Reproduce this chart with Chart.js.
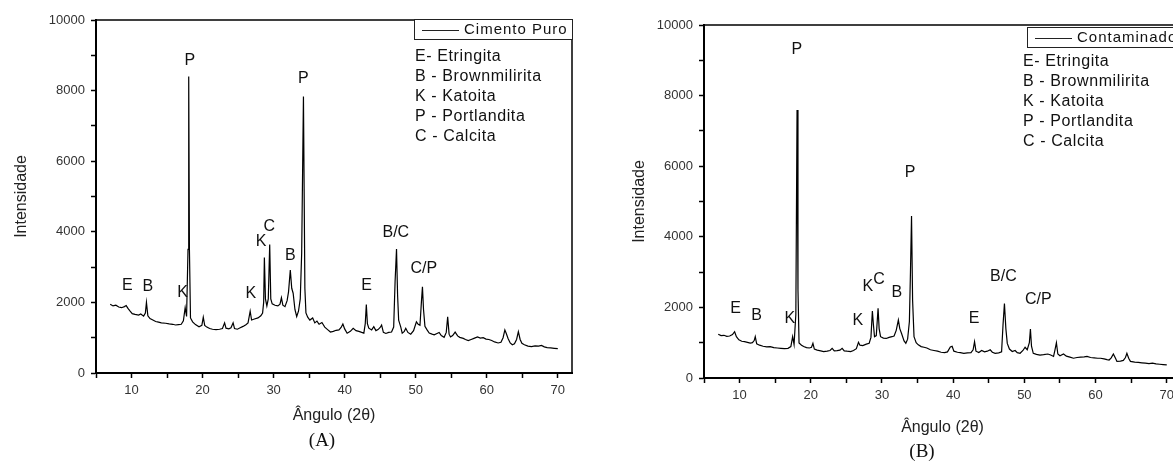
<!DOCTYPE html>
<html lang="pt">
<head>
<meta charset="utf-8">
<script src="https://cdn.jsdelivr.net/npm/chart.js@4.4.1/dist/chart.umd.min.js"></script>
<style>
  html, body { margin: 0; padding: 0; background: #fff; overflow: hidden; width: 1173px; height: 466px; }
  canvas { position: absolute; top: 0; }
  #difA { left: 0; }
  #difB { left: 586px; }
  .rotulo { position: absolute; font-family: 'Liberation Serif', 'Times New Roman', serif; font-size: 19px; color: #111; transform: translate(-50%, -50%); }
</style>
</head>
<body>
<canvas id="difA" width="586" height="466"></canvas>
<canvas id="difB" width="600" height="466"></canvas>
<div class="rotulo" style="left:322px;top:440px">(A)</div>
<div class="rotulo" style="left:922px;top:451px">(B)</div>
<script>
// difratograma (A) - cimento puro
const anguloA = [
    7.0, 7.4, 7.8, 8.2, 8.6, 9.0, 9.25, 9.5, 9.8, 10.1, 10.5, 11.0, 11.3, 11.7, 11.95, 12.1, 12.3, 12.6,
    13.0, 13.4, 13.8, 14.2, 14.8, 15.3, 15.8, 16.2, 16.6, 17.0, 17.3, 17.55, 17.75, 17.95, 18.05, 18.15,
    18.3, 18.6, 19.0, 19.5, 19.9, 20.1, 20.3, 20.6, 21.0, 21.4, 21.9, 22.4, 22.8, 23.1, 23.3, 23.7, 24.0,
    24.3, 24.5, 24.9, 25.3, 25.7, 26.1, 26.4, 26.7, 26.9, 27.3, 27.8, 28.2, 28.45, 28.6, 28.7, 28.85,
    29.05, 29.25, 29.45, 29.6, 29.8, 30.2, 30.6, 30.9, 31.1, 31.3, 31.6, 31.9, 32.1, 32.35, 32.55, 32.75,
    33.0, 33.25, 33.5, 33.75, 33.95, 34.2, 34.4, 34.55, 34.8, 35.1, 35.5, 35.8, 36.1, 36.4, 36.8, 37.2,
    37.6, 38.0, 38.4, 38.8, 39.2, 39.5, 39.75, 40.0, 40.35, 40.8, 41.2, 41.6, 42.0, 42.4, 42.7, 42.9,
    43.05, 43.2, 43.4, 43.8, 44.1, 44.4, 44.7, 45.0, 45.2, 45.45, 45.8, 46.2, 46.6, 46.9, 47.1, 47.3,
    47.45, 47.6, 47.9, 48.1, 48.4, 48.6, 48.9, 49.3, 49.7, 50.1, 50.35, 50.6, 50.8, 50.95, 51.1, 51.3,
    51.6, 51.9, 52.3, 52.6, 53.0, 53.3, 53.6, 54.0, 54.3, 54.5, 54.7, 54.9, 55.2, 55.55, 55.9, 56.2,
    56.7, 57.0, 57.4, 57.8, 58.2, 58.7, 59.1, 59.5, 59.9, 60.3, 60.7, 61.1, 61.6, 62.0, 62.3, 62.55,
    62.75, 63.0, 63.3, 63.6, 63.9, 64.2, 64.45, 64.7, 64.95, 65.3, 65.8, 66.3, 66.8, 67.3, 67.7, 68.1,
    68.5, 69.0, 69.5, 70.0
];
const intensidadeA = [
    1950, 1900, 1920, 1870, 1850, 1880, 1910, 1830, 1750, 1680, 1660, 1640, 1670, 1610, 1700, 2000, 1620, 1540,
    1500, 1460, 1440, 1420, 1410, 1390, 1380, 1360, 1370, 1380, 1480, 1850, 1600, 3500, 8400, 3500,
    1560, 1450, 1370, 1310, 1350, 1580, 1350, 1300, 1260, 1240, 1230, 1240, 1260, 1420, 1270, 1250, 1280,
    1420, 1260, 1240, 1280, 1320, 1370, 1420, 1750, 1500, 1530, 1560, 1620, 1700, 2000, 3270, 2100,
    1900, 2100, 3640, 2100, 1960, 1920, 1900, 1950, 2130, 1920, 1880, 2050, 2300, 2920, 2400, 2260,
    1800, 1600, 1750, 2100, 3400, 7830, 2400, 1700, 1580, 1500, 1560, 1420, 1470, 1380, 1430, 1300,
    1230, 1160, 1180, 1210, 1220, 1290, 1390, 1250, 1125, 1180, 1265, 1200, 1180, 1150, 1130, 1400,
    1940, 1400, 1270, 1220, 1310, 1200, 1230, 1290, 1360, 1150, 1120, 1150, 1160, 1300, 2600, 3510,
    2200, 1500, 1300, 1130, 1180, 1265, 1150, 1100, 1200, 1450, 1380, 1350, 2000, 2440, 1800, 1320,
    1220, 1130, 1100, 1080, 1120, 1150, 1060, 1010, 1150, 1590, 1100, 1020, 1060, 1160, 1050, 1010,
    980, 950, 920, 950, 980, 1020, 990, 1000, 960, 950, 920, 880, 850, 870, 1000, 1220,
    1120, 980, 850, 800, 830, 950, 1170, 950, 840, 800, 760, 750, 770, 760, 780, 740,
    720, 710, 700, 690
];

// difratograma (B) - contaminado
const anguloB = [
    7.0, 7.4, 7.8, 8.2, 8.6, 9.0, 9.3, 9.55, 9.9, 10.3, 10.7, 11.1, 11.5, 11.8, 12.05, 12.2, 12.4, 12.8,
    13.3, 13.8, 14.3, 14.8, 15.3, 15.8, 16.3, 16.8, 17.2, 17.45, 17.65, 17.9, 18.07, 18.2, 18.35, 18.7,
    19.0, 19.4, 19.8, 20.1, 20.3, 20.5, 20.9, 21.4, 21.8, 22.3, 22.7, 23.0, 23.3, 23.7, 24.1, 24.4,
    24.7, 25.1, 25.6, 26.0, 26.4, 26.7, 26.9, 27.3, 27.8, 28.2, 28.45, 28.65, 28.8, 28.95, 29.2, 29.45,
    29.6, 29.8, 30.2, 30.6, 31.0, 31.4, 31.7, 32.0, 32.3, 32.5, 32.75, 33.1, 33.35, 33.6, 33.85, 34.0,
    34.15, 34.3, 34.5, 34.8, 35.1, 35.5, 35.9, 36.3, 36.8, 37.3, 37.8, 38.3, 38.8, 39.2, 39.6, 39.85,
    40.1, 40.6, 41.0, 41.5, 42.0, 42.5, 42.8, 43.0, 43.2, 43.6, 44.0, 44.4, 44.8, 45.2, 45.5, 45.9,
    46.4, 46.8, 47.0, 47.2, 47.4, 47.6, 47.9, 48.3, 48.7, 49.0, 49.4, 49.8, 50.1, 50.4, 50.7, 50.85,
    51.0, 51.25, 51.7, 52.2, 52.7, 53.3, 53.7, 54.1, 54.3, 54.5, 54.7, 55.0, 55.5, 55.9, 56.4, 56.9,
    57.4, 57.9, 58.4, 58.8, 59.3, 59.8, 60.3, 60.7, 61.2, 61.6, 61.9, 62.2, 62.5, 62.8, 63.0, 63.5,
    63.9, 64.2, 64.4, 64.65, 64.9, 65.5, 66.0, 66.5, 67.0, 67.5, 68.0, 68.5, 69.0, 69.5, 70.0
];
const intensidadeB = [
    1240, 1200, 1210, 1180, 1190, 1230, 1310, 1170, 1080, 1040, 1030, 1010, 990, 1000, 1060, 1170, 970, 930,
    900, 880, 890, 860, 850, 840, 830, 840, 890, 1170, 950, 1800, 7590, 2500, 990, 930,
    890, 860, 850, 870, 980, 820, 790, 770, 750, 760, 780, 840, 770, 775, 790, 840,
    770, 760, 750, 780, 830, 1010, 930, 920, 960, 985, 1150, 1900, 1500, 1170, 1200, 1975,
    1400, 1170, 1130, 1120, 1150, 1170, 1190, 1350, 1640, 1400, 1260, 1050, 985, 1100, 1600, 3000,
    4590, 2200, 1170, 1000, 940, 890, 870, 850, 800, 780, 760, 730, 720, 740, 880, 900,
    760, 730, 720, 700, 710, 720, 800, 1030, 760, 720, 780, 740, 760, 800, 730, 700,
    710, 740, 1500, 2110, 1400, 980, 820, 750, 780, 720, 700, 780, 870, 800, 1000, 1390,
    900, 700, 670, 650, 660, 680, 650, 610, 800, 1000, 680, 630, 680, 620, 590, 560,
    580, 590, 600, 610, 580, 570, 560, 560, 540, 520, 510, 570, 680, 560, 470, 480,
    500, 580, 700, 560, 470, 450, 440, 430, 420, 410, 420, 400, 390, 380, 370
];

// rótulos dos picos: [fase, ângulo, intensidade]
const picosA = [
    ['E', 9.4, 2490], ['B', 12.3, 2440], ['K', 17.2, 2270], ['P', 18.2, 8840],
    ['K', 26.8, 2240], ['K', 28.25, 3710], ['C', 29.4, 4140], ['B', 32.35, 3340],
    ['P', 34.2, 8330], ['E', 43.1, 2490], ['B/C', 47.2, 3970], ['C/P', 51.15, 2970]
];
const picosB = [
    ['E', 9.45, 1980], ['B', 12.4, 1760], ['K', 17.05, 1670], ['P', 18.05, 9290],
    ['K', 26.6, 1615], ['K', 28.0, 2580], ['C', 29.6, 2780], ['B', 32.1, 2410],
    ['P', 33.95, 5810], ['E', 42.95, 1670], ['B/C', 47.05, 2860], ['C/P', 51.95, 2210]
];
const fases = ['E- Etringita', 'B - Brownmilirita', 'K - Katoita', 'P - Portlandita', 'C - Calcita'];
const marcasX = [5, 10, 15, 20, 25, 30, 35, 40, 45, 50, 55, 60, 65, 70];

const fonte = '"Liberation Sans", Arial, sans-serif';

// moldura, rótulos dos picos, lista de fases e legenda
const anotacoes = {
    id: 'anotacoes',
    afterDatasetsDraw(chart, args, opts) {
        const {ctx, chartArea: a, scales: {x, y}} = chart;
        ctx.save();
        ctx.strokeStyle = '#000';
        ctx.lineWidth = 1.5;
        ctx.beginPath();
        ctx.moveTo(a.left, a.top);
        ctx.lineTo(a.right, a.top);
        ctx.lineTo(a.right, a.bottom);
        ctx.stroke();

        ctx.fillStyle = '#111';
        ctx.font = '16px ' + fonte;
        ctx.textAlign = 'center';
        ctx.textBaseline = 'middle';
        opts.picos.forEach(([txt, ang, val]) => {
            ctx.fillText(txt, x.getPixelForValue(ang), y.getPixelForValue(val));
        });

        ctx.textAlign = 'left';
        ctx.letterSpacing = '0.6px';
        fases.forEach((txt, i) => {
            ctx.fillText(txt, a.right - opts.listaDx, a.top + 37 + i * 19.8);
        });

        // caixa da legenda
        const bx = a.right - opts.caixaDx, by = a.top + opts.caixaDy;
        ctx.fillStyle = '#fff';
        ctx.fillRect(bx, by, a.right - bx, 20);
        ctx.lineWidth = 1;
        ctx.strokeStyle = '#222';
        ctx.strokeRect(bx + 0.5, by + 0.5, a.right - bx, 20);
        ctx.beginPath();
        ctx.moveTo(bx + 8, by + 11.5);
        ctx.lineTo(bx + 45, by + 11.5);
        ctx.stroke();
        ctx.fillStyle = '#111';
        ctx.font = '15px ' + fonte;
        ctx.letterSpacing = '1px';
        ctx.fillText(opts.serie, bx + 50, by + 11);
        ctx.restore();
    }
};

function difratograma(id, angulos, valores, serie, picos, ext) {
    new Chart(document.getElementById(id), {
        type: 'line',
        data: {
            datasets: [{
                label: serie,
                data: angulos.map((a, i) => ({x: a, y: valores[i]})),
                borderColor: '#000',
                borderWidth: 1.2,
                pointRadius: 0,
                tension: 0
            }]
        },
        options: {
            responsive: false,
            animation: false,
            devicePixelRatio: 1,
            layout: {padding: ext.padding},
            plugins: {
                legend: {display: false},
                tooltip: {enabled: false},
                anotacoes: {picos: picos, serie: serie, listaDx: ext.listaDx, caixaDx: ext.caixaDx, caixaDy: ext.caixaDy}
            },
            scales: {
                x: {
                    type: 'linear',
                    min: 5,
                    max: 72,
                    afterBuildTicks: (ax) => { ax.ticks = marcasX.map(v => ({value: v})); },
                    afterFit: (ax) => { ax.height = ext.alturaX; },
                    ticks: {
                        callback: v => v % 10 === 0 ? v : '',
                        color: '#333',
                        padding: 5,
                        font: {family: fonte, size: 13}
                    },
                    grid: {drawOnChartArea: false, tickColor: '#000', tickLength: 5, tickWidth: 1.5},
                    border: {color: '#000', width: 2},
                    title: {display: true, text: 'Ângulo (2θ)', color: '#222', font: {family: fonte, size: 16}}
                },
                y: {
                    min: 0,
                    max: 10000,
                    afterFit: (ax) => { ax.width = ext.larguraY; },
                    ticks: {
                        stepSize: 1000,
                        callback: v => v % 2000 === 0 ? v : '',
                        color: '#333',
                        padding: 6,
                        font: {family: fonte, size: 13}
                    },
                    grid: {drawOnChartArea: false, tickColor: '#000', tickLength: 5, tickWidth: 1.5},
                    border: {color: '#000', width: 2},
                    title: {display: true, text: 'Intensidade', color: '#222', font: {family: fonte, size: 16}}
                }
            }
        },
        plugins: [anotacoes]
    });
}

difratograma('difA', anguloA, intensidadeA, 'Cimento Puro', picosA, {
    padding: {left: 8, right: 14, top: 20, bottom: 37},
    larguraY: 88, alturaX: 56, listaDx: 157, caixaDx: 158, caixaDy: -1
});
difratograma('difB', anguloB, intensidadeB, 'Contaminado', picosB, {
    padding: {left: 40, right: 5, top: 25, bottom: 25},
    larguraY: 78, alturaX: 63, listaDx: 158, caixaDx: 154, caixaDy: 2
});
</script>
</body>
</html>
